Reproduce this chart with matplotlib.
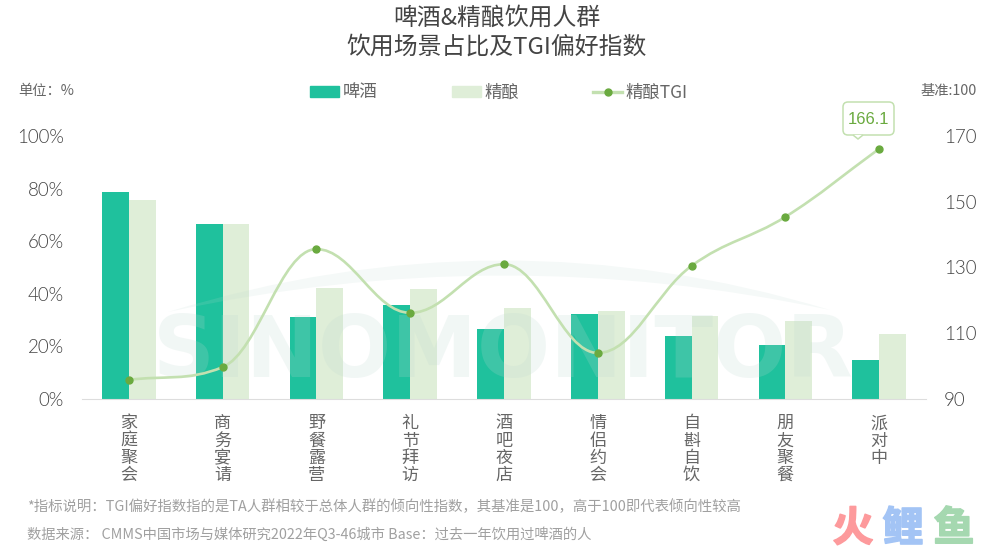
import numpy as np
import matplotlib
matplotlib.use("Agg")
import matplotlib.pyplot as plt
from matplotlib.lines import Line2D
from matplotlib.patches import Patch, PathPatch, Polygon, FancyBboxPatch
from matplotlib.path import Path
from matplotlib.transforms import IdentityTransform
import matplotlib.patheffects as pe

plt.rcParams['font.family'] = ['Noto Sans CJK SC', 'DejaVu Sans']

categories = ["家庭聚会", "商务宴请", "野餐露营", "礼节拜访", "酒吧夜店", "情侣约会", "自斟自饮", "朋友聚餐", "派对中"]
beer = [78.7, 66.4, 31.3, 35.7, 26.6, 32.3, 24.1, 20.5, 14.8]
craft = [75.7, 66.4, 42.3, 41.8, 34.7, 33.5, 31.6, 29.8, 24.7]
craft_tgi = [95.8, 99.7, 135.6, 116.2, 131, 104, 130.5, 145.4, 166.1]
pct_ticks = [0, 20, 40, 60, 80, 100]
tgi_ticks = [90, 110, 130, 150, 170]

BEER_COLOR = "#1fc19d"
CRAFT_COLOR = "#dfeed8"
LINE_COLOR = "#c3e0b0"
DOT_COLOR = "#6aaa3f"
TEXT_COLOR = "#666666"
W, H = 1000, 552


def fx(px):
    return px / W


def fy(px):
    return 1 - px / H


def smooth_path(xs, ys, k=0.38):
    # monotone curve through the points, flat at peaks and troughs
    n = len(xs)
    sec = [(ys[i + 1] - ys[i]) / (xs[i + 1] - xs[i]) for i in range(n - 1)]
    m = [sec[0]] + [0.0] * (n - 2) + [sec[-1]]
    for i in range(1, n - 1):
        if sec[i - 1] * sec[i] > 0:
            s = 1 if sec[i] > 0 else -1
            m[i] = s * min((abs(sec[i - 1]) + abs(sec[i])) / 2, 3 * abs(sec[i - 1]), 3 * abs(sec[i]))
    verts = [(xs[0], ys[0])]
    codes = [Path.MOVETO]
    for i in range(n - 1):
        dx = xs[i + 1] - xs[i]
        verts.append((xs[i] + dx * k, ys[i] + m[i] * dx * k))
        verts.append((xs[i + 1] - dx * k, ys[i + 1] - m[i + 1] * dx * k))
        verts.append((xs[i + 1], ys[i + 1]))
        codes += [Path.CURVE4] * 3
    return Path(verts, codes)


fig = plt.figure(figsize=(10, 5.52), dpi=100)
ax = fig.add_axes([fx(82), fy(399), fx(926 - 82), (399 - 136) / H])
x = np.arange(len(categories))
width = 0.285

ax.bar(x - width / 2, beer, width, color=BEER_COLOR)
ax.bar(x + width / 2, craft, width, color=CRAFT_COLOR)
ax.set_xlim(-0.5, len(categories) - 0.5)
ax.set_ylim(0, 100)
ax.set_yticks(pct_ticks)
ax.set_yticklabels(["%d%%" % v for v in pct_ticks], family="Lato", fontweight=300)
ax.set_xticks(x)
ax.set_xticklabels(["\n".join(c) for c in categories], va="top", linespacing=0.95)
ax.tick_params(axis="y", length=0, pad=13, labelsize=13.5, labelcolor="#444444")
ax.tick_params(axis="x", length=0, pad=11, labelsize=12.3, labelcolor=TEXT_COLOR)
for name in ["top", "left", "right"]:
    ax.spines[name].set_visible(False)
ax.spines["bottom"].set_color("#dddddd")

ax2 = ax.twinx()
ax2.set_ylim(90, 170)
ax2.set_yticks(tgi_ticks)
ax2.set_yticklabels(["%d" % v for v in tgi_ticks], family="Lato", fontweight=300)
ax2.tick_params(axis="y", length=0, pad=13, labelsize=13.5, labelcolor="#444444")
for name in ["top", "left", "right", "bottom"]:
    ax2.spines[name].set_visible(False)

# watermark lies over the bars but under the line
ax2.text(fx(503), fy(353), "SINOMONITOR", color="#bcd8d0", alpha=0.2, fontsize=62, fontweight="bold",
         ha="center", va="center", family="DejaVu Sans", transform=fig.transFigure, zorder=0.5)
swoosh = Path([(fx(168), fy(312)), (fx(500), fy(210)), (fx(830), fy(310)), (fx(500), fy(240)), (fx(168), fy(312))],
              [Path.MOVETO, Path.CURVE3, Path.CURVE3, Path.CURVE3, Path.CURVE3])
ax2.add_patch(PathPatch(swoosh, facecolor="#bcd8d0", edgecolor="none", alpha=0.15, transform=fig.transFigure, zorder=0.5))

ax2.add_patch(PathPatch(smooth_path(x, craft_tgi), fill=False, edgecolor=LINE_COLOR, linewidth=1.9, zorder=2))
ax2.plot(x, craft_tgi, linestyle="none", marker="o", markersize=5, color=DOT_COLOR, zorder=3)

# value callout on the last point
fig.add_artist(FancyBboxPatch((843, H - 135), 51, 33, boxstyle="round,pad=0,rounding_size=5", facecolor="white",
                              edgecolor=LINE_COLOR, linewidth=1.1, transform=IdentityTransform()))
fig.add_artist(Polygon([(fx(853), fy(135)), (fx(858), fy(139)), (fx(863), fy(135))], closed=False,
                       facecolor="white", edgecolor=LINE_COLOR, linewidth=1.1))
fig.text(fx(868.5), fy(119.5), "%.1f" % craft_tgi[-1], ha="center", va="center", fontsize=12, color=DOT_COLOR,
         family="Liberation Sans")

handles = [Patch(color=BEER_COLOR, label="啤酒"), Patch(color=CRAFT_COLOR, label="精酿"),
           Line2D([], [], color=LINE_COLOR, linewidth=2.4, marker="o", markersize=5,
                  markerfacecolor=DOT_COLOR, markeredgecolor=DOT_COLOR, label="精酿TGI")]
fig.legend(handles=handles, ncols=3, loc="center", bbox_to_anchor=(fx(499), fy(92.5)), frameon=False,
           fontsize=12.5, labelcolor=TEXT_COLOR, handlelength=1.65, handleheight=0.65, handletextpad=0.2,
           columnspacing=4.3)

fig.text(fx(497), fy(32.5), "啤酒&精酿饮用人群\n饮用场景占比及TGI偏好指数", ha="center", va="center",
         fontsize=17.2, color="#444444", linespacing=1.3)
fig.text(fx(18), fy(91), "单位：%", fontsize=10.3, color=TEXT_COLOR, va="center")
fig.text(fx(977), fy(91), "基准:100", fontsize=10.3, color=TEXT_COLOR, va="center", ha="right")
fig.text(fx(27), fy(507), "*指标说明：TGI偏好指数指的是TA人群相较于总体人群的倾向性指数，其基准是100，高于100即代表倾向性较高",
         fontsize=10.4, color="#a0a0a0", va="center")
fig.text(fx(27), fy(535), "数据来源： CMMS中国市场与媒体研究2022年Q3-46城市 Base：过去一年饮用过啤酒的人",
         fontsize=10.3, color="#a0a0a0", va="center")

# site logo, bottom right
for px, ch, col in [(853, "火", "#fd9a9c"), (903, "鲤", "#a3c4f5"), (954, "鱼", "#a5d8b0")]:
    fig.text(fx(px), fy(529), ch, color=col, fontsize=29.5, fontweight="bold", ha="center", va="center",
             path_effects=[pe.withStroke(linewidth=1.2, foreground=col)])

fig.savefig("out.png", dpi=100)
